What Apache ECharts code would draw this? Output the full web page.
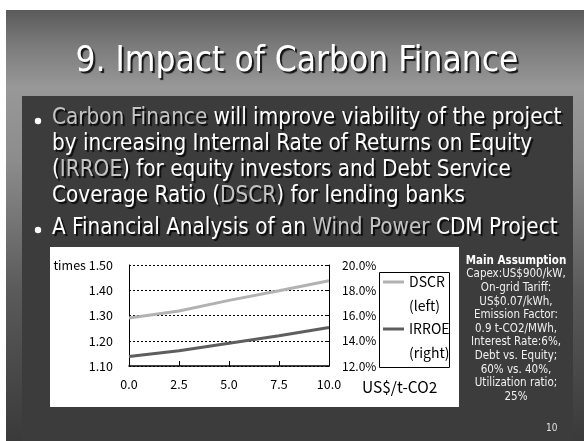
<!DOCTYPE html>
<html>
<head>
<meta charset="utf-8">
<script src="https://cdn.jsdelivr.net/npm/echarts@6/dist/echarts.min.js"></script>
<style>
html, body { margin: 0; padding: 0; background: #fff; }
#chart { width: 584px; height: 441px; }
</style>
</head>
<body>
<div id="chart"></div>
<script>
// data
var carbonPrice = [0, 2.5, 5, 7.5, 10];          // US$/t-CO2
var dscr = [1.29, 1.318, 1.36, 1.398, 1.438];     // times (left axis)
var irroe = [12.75, 13.2, 13.8, 14.4, 15.05];     // % (right axis)
var seriesNames = ['DSCR', 'IRROE'];
var legendNotes = ['(left)', '(right)'];

var slideFont = '"DejaVu Sans Condensed", "DejaVu Sans", sans-serif';
var chartFont = '"Noto Sans CJK JP", "Noto Sans", sans-serif';

var shadow = { textShadowColor: 'rgba(0,0,0,0.85)', textShadowOffsetX: 2, textShadowOffsetY: 2, textShadowBlur: 1 };

function richLine(x, y, parts) {
    var rich = {
        w: Object.assign({ fill: '#ffffff', fontSize: 22.3, fontFamily: slideFont }, shadow),
        g: Object.assign({ fill: '#c4c4c4', fontSize: 22.3, fontFamily: slideFont }, shadow)
    };
    return {
        type: 'text', x: x, y: y, z: 10,
        style: {
            text: parts.map(function (p) { return '{' + p[0] + '|' + p[1] + '}'; }).join(''),
            rich: rich, verticalAlign: 'middle', align: 'left'
        }
    };
}

var assumption = ['Capex:US$900/kW,', 'On-grid Tariff:', 'US$0.07/kWh,', 'Emission Factor:',
    '0.9 t-CO2/MWh,', 'Interest Rate:6%,', 'Debt vs. Equity;', '60% vs. 40%,',
    'Utilization ratio;', '25%'];

var graphics = [
    { type: 'rect', z: -10, shape: { x: 6, y: 10, width: 578, height: 431 },
      style: { fill: new echarts.graphic.LinearGradient(0, 0, 0, 1, [
          { offset: 0, color: '#5a5a5a' }, { offset: 0.08, color: '#7a7a7a' },
          { offset: 0.18, color: '#989898' }, { offset: 0.35, color: '#8c8c8c' },
          { offset: 0.65, color: '#5a5a5a' }, { offset: 1, color: '#3a3a3a' }]) } },
    { type: 'rect', z: -9, shape: { x: 22, y: 96, width: 551, height: 345 }, style: { fill: '#3c3c3c' } },
    { type: 'rect', z: -8, shape: { x: 50, y: 247, width: 409, height: 160 }, style: { fill: '#ffffff' } },
    { type: 'rect', z: 10, shape: { x: 379.5, y: 272.5, width: 70, height: 95 },
      style: { fill: 'none', stroke: '#000', lineWidth: 1 } },
    { type: 'text', x: 297, y: 62, z: 10,
      style: Object.assign({ text: '9. Impact of Carbon Finance', fill: '#fff', fontSize: 35,
          fontFamily: slideFont, align: 'center', verticalAlign: 'middle' }, shadow) },
    { type: 'circle', z: 10, shape: { cx: 38, cy: 121, r: 3.2 }, style: { fill: '#fff' } },
    { type: 'circle', z: 10, shape: { cx: 38, cy: 230, r: 3.2 }, style: { fill: '#fff' } },
    richLine(52, 118, [['g', 'Carbon Finance'], ['w', ' will improve viability of the project']]),
    richLine(52, 144, [['w', 'by increasing Internal Rate of Returns on Equity']]),
    richLine(52, 170, [['w', '('], ['g', 'IRROE'], ['w', ') for equity investors and Debt Service']]),
    richLine(52, 196, [['w', 'Coverage Ratio ('], ['g', 'DSCR'], ['w', ') for lending banks']]),
    richLine(52, 228, [['w', 'A Financial Analysis of an '], ['g', 'Wind Power'], ['w', ' CDM Project']]),
    { type: 'text', x: 516, y: 261, z: 10,
      style: { text: 'Main Assumption', fill: '#fff', fontSize: 11.5, fontWeight: 'bold',
          fontFamily: slideFont, align: 'center', verticalAlign: 'middle' } },
    { type: 'text', x: 516, y: 267.7, z: 10,
      style: { text: assumption.join('\n'), fill: '#f0f0f0', fontSize: 11.5, lineHeight: 13.6,
          fontFamily: slideFont, align: 'center', verticalAlign: 'top' } },
    { type: 'text', x: 546, y: 428, z: 10,
      style: { text: '10', fill: '#e0e0e0', fontSize: 10, fontFamily: slideFont, verticalAlign: 'middle' } },
    { type: 'text', x: 362, y: 387, z: 10,
      style: { text: 'US$/t-CO2', fill: '#000', fontSize: 15.5, fontFamily: chartFont, verticalAlign: 'middle' } }
];

function legendFor(i, top) {
    return {
        data: [seriesNames[i]], left: 383, top: top, padding: 0,
        icon: 'rect', itemWidth: 21, itemHeight: 3, itemGap: 0,
        // blank first line keeps the series name level with the icon
        formatter: function (name) { return '{a| }\n{a|' + name + '}\n{a|' + legendNotes[i] + '}'; },
        textStyle: { rich: { a: { color: '#000', fontSize: 14, fontFamily: chartFont, lineHeight: 24 } } }
    };
}

var option = {
    backgroundColor: '#ffffff',
    animation: false,
    graphic: graphics,
    grid: { left: 129, top: 265, width: 200, height: 101 },
    legend: [legendFor(0, 251), legendFor(1, 298)],
    xAxis: {
        type: 'value', min: 0, max: 10, interval: 2.5,
        axisLine: { lineStyle: { color: '#000', width: 1.5 } },
        axisTick: { inside: true, length: 5, lineStyle: { color: '#000' } },
        axisLabel: { color: '#000', fontSize: 12.5, fontFamily: chartFont, margin: 12,
            formatter: function (v) { return v.toFixed(1); } },
        splitLine: { show: false }
    },
    yAxis: [{
        type: 'value', min: 1.1, max: 1.5, interval: 0.1,
        axisLine: { show: true, lineStyle: { color: '#000', width: 1 } },
        axisTick: { show: false },
        axisLabel: { color: '#000', fontSize: 12.5, fontFamily: chartFont, margin: 16,
            formatter: function (v) { return (Math.abs(v - 1.5) < 1e-6 ? 'times ' : '') + v.toFixed(2); } },
        splitLine: { show: true, lineStyle: { color: '#000', type: [2, 2], width: 1 } }
    }, {
        type: 'value', min: 12, max: 20, interval: 2, position: 'right',
        axisLine: { show: true, lineStyle: { color: '#000', width: 1 } },
        axisTick: { show: true, inside: true, length: 4, lineStyle: { color: '#000' } },
        axisLabel: { color: '#000', fontSize: 12, fontFamily: chartFont, margin: 13,
            formatter: function (v) { return v.toFixed(1) + '%'; } },
        splitLine: { show: false }
    }],
    series: [{
        name: seriesNames[0], type: 'line', yAxisIndex: 0, showSymbol: false,
        data: carbonPrice.map(function (x, i) { return [x, dscr[i]]; }),
        lineStyle: { color: '#b2b2b2', width: 3 }, itemStyle: { color: '#b2b2b2' }
    }, {
        name: seriesNames[1], type: 'line', yAxisIndex: 1, showSymbol: false,
        data: carbonPrice.map(function (x, i) { return [x, irroe[i]]; }),
        lineStyle: { color: '#5e5e5e', width: 3 }, itemStyle: { color: '#5e5e5e' }
    }]
};

var chart = echarts.init(document.getElementById('chart'), null, { renderer: 'canvas' });
chart.setOption(option);
</script>
</body>
</html>
